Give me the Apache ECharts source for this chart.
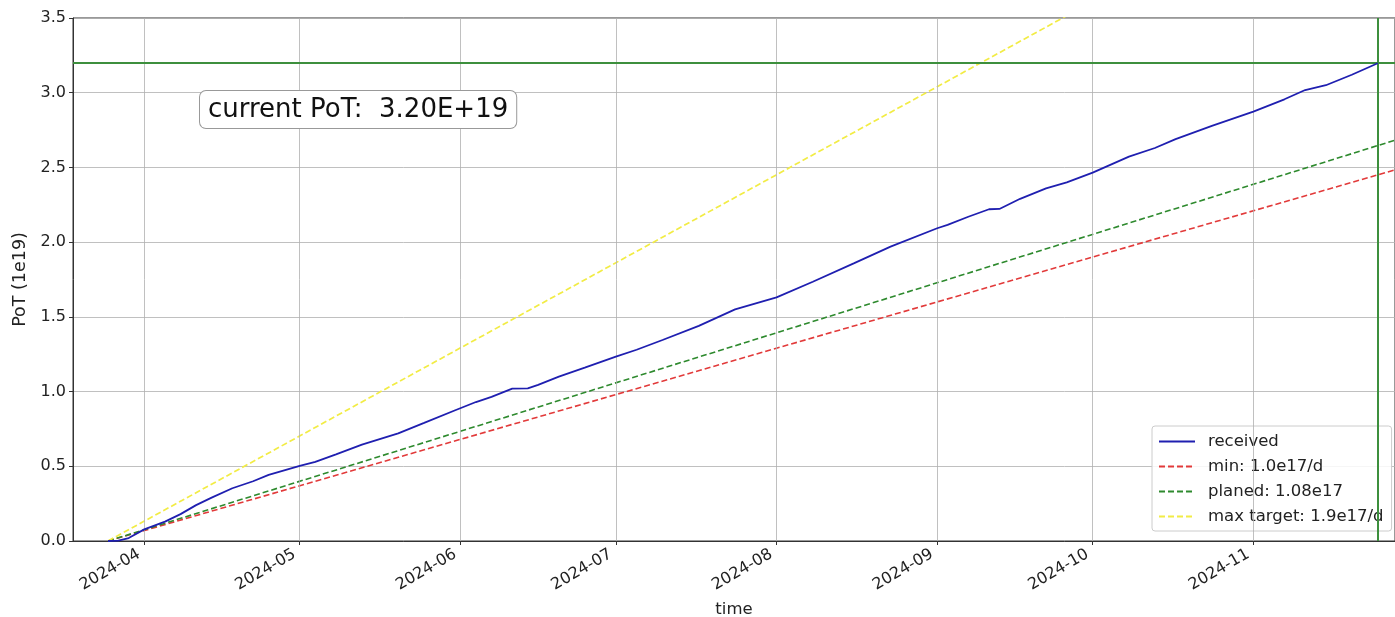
<!DOCTYPE html>
<html>
<head>
<meta charset="utf-8">
<script src="https://cdn.jsdelivr.net/npm/echarts@6/dist/echarts.min.js"></script>
<style>
  html, body { margin: 0; padding: 0; background: #fff; }
  #chart { width: 1395px; height: 617px; }
</style>
</head>
<body>
<div id="chart"></div>
<script>
// Accumulated protons on target (units of 1e19), sampled dates
const receivedDates = [
  '2024-03-25','2024-03-27','2024-03-29','2024-04-01','2024-04-05','2024-04-08','2024-04-11',
  '2024-04-14','2024-04-18','2024-04-22','2024-04-25','2024-05-01','2024-05-04','2024-05-08',
  '2024-05-13','2024-05-20','2024-05-25','2024-05-31','2024-06-04','2024-06-07','2024-06-11',
  '2024-06-14','2024-06-16','2024-06-20','2024-06-25','2024-07-01','2024-07-05','2024-07-10',
  '2024-07-17','2024-07-24','2024-08-01','2024-08-08','2024-08-16','2024-08-23','2024-09-01',
  '2024-09-03','2024-09-07','2024-09-11','2024-09-13','2024-09-17','2024-09-22','2024-09-26',
  '2024-10-01','2024-10-08','2024-10-13','2024-10-17','2024-10-24','2024-11-01','2024-11-07',
  '2024-11-11','2024-11-15','2024-11-20','2024-11-25'
];
const receivedValues = [
  0.000, 0.002, 0.020, 0.078, 0.130, 0.180, 0.240,
  0.290, 0.353, 0.400, 0.442, 0.502, 0.530, 0.580,
  0.645, 0.720, 0.790, 0.875, 0.930, 0.965, 1.020,
  1.022, 1.045, 1.100, 1.160, 1.234, 1.280, 1.345,
  1.440, 1.550, 1.630, 1.735, 1.860, 1.970, 2.093,
  2.115, 2.170, 2.220, 2.222, 2.290, 2.360, 2.400,
  2.465, 2.572, 2.630, 2.689, 2.778, 2.874, 2.956,
  3.018, 3.050, 3.120, 3.197
];

// Reference rate lines: start and end points [date, PoT (1e19)]
const lineDates = ['2024-03-25', '2024-12-01'];
const minValues = [0, 2.51];       // 1.0e17 per day
const planedValues = [0, 2.711];   // 1.08e17 per day
const maxValues = [0, 4.769];      // 1.9e17 per day

// Axis ticks
const monthTicks = ['2024-04','2024-05','2024-06','2024-07','2024-08','2024-09','2024-10','2024-11'];
const xStart = '2024-03-18T06:00:00Z';
const xEnd = '2024-11-28T08:00:00Z';

// Latest value and its date
const currentDate = receivedDates[receivedDates.length - 1];
const currentValue = receivedValues[receivedValues.length - 1];

const ts = s => Date.parse(s.length === 7 ? s + '-01T00:00:00Z' : (s.length === 10 ? s + 'T00:00:00Z' : s));
const pairs = (dates, vals) => dates.map((d, i) => [ts(d), vals[i]]);
const tickValues = monthTicks.map(ts);

const FONT = 'DejaVu Sans';
const TXT = '#222';

const chart = echarts.init(document.getElementById('chart'), null, { renderer: 'canvas' });

chart.setOption({
  animation: false,
  backgroundColor: '#fff',
  grid: {
    left: 73, top: 18, right: 0, bottom: 76,
    outerBoundsMode: 'none',
    containLabel: false,
    show: true, borderColor: '#333', borderWidth: 1, backgroundColor: 'transparent'
  },
  xAxis: {
    type: 'value',
    min: ts(xStart),
    max: ts(xEnd),
    name: 'time',
    nameLocation: 'middle',
    nameGap: 60,
    nameTextStyle: { fontFamily: FONT, fontSize: 16.5, color: TXT },
    axisLine: { show: true, lineStyle: { color: '#333', width: 1 } },
    axisTick: { show: true, length: 4, lineStyle: { color: '#333' }, customValues: tickValues },
    axisLabel: {
      customValues: tickValues,
      rotate: 30,
      margin: 9,
      padding: [0, 6, 0, 0],
      fontFamily: FONT, fontSize: 16, color: TXT,
      formatter: v => {
        const d = new Date(v);
        return d.getUTCFullYear() + '-' + String(d.getUTCMonth() + 1).padStart(2, '0');
      }
    },
    splitLine: { show: false }
  },
  yAxis: {
    type: 'value',
    min: 0, max: 3.5, interval: 0.5,
    name: 'PoT (1e19)',
    nameLocation: 'middle',
    nameGap: 40,
    nameTextStyle: { fontFamily: FONT, fontSize: 17.5, color: TXT },
    axisLine: { show: true, lineStyle: { color: '#333', width: 1 } },
    axisTick: { show: true, length: 4, lineStyle: { color: '#333' } },
    axisLabel: {
      margin: 7,
      fontFamily: FONT, fontSize: 16, color: TXT,
      formatter: v => v.toFixed(1)
    },
    splitLine: { show: true, lineStyle: { color: '#b0b0b0', width: 0.8 } }
  },
  legend: {
    orient: 'vertical',
    left: 1152, top: 426,
    itemWidth: 36, itemHeight: 14, itemGap: 8,
    padding: [7, 8, 6, 6],
    backgroundColor: 'rgba(255,255,255,0.85)',
    borderColor: '#cccccc', borderWidth: 1, borderRadius: 3,
    itemStyle: { opacity: 0 },
    textStyle: { fontFamily: FONT, fontSize: 16.5, color: TXT, padding: [0, 0, 0, 8] },
    data: ['received', 'min: 1.0e17/d', 'planed: 1.08e17', 'max target: 1.9e17/d']
  },
  graphic: [{
    type: 'text',
    left: 199, top: 90,
    z: 100,
    style: {
      text: 'current PoT:  ' + currentValue.toFixed(2) + 'E+19',
      font: '26px "DejaVu Sans"',
      fill: '#111',
      backgroundColor: '#fff',
      borderColor: '#999',
      borderWidth: 1,
      borderRadius: 6,
      padding: [6, 8, 5, 8]
    }
  }],
  series: [
    {
      // vertical month grid lines
      name: 'monthGrid',
      type: 'line',
      data: [],
      silent: true,
      z: 1,
      markLine: {
        silent: true,
        symbol: 'none',
        label: { show: false },
        lineStyle: { color: '#b0b0b0', width: 0.8, type: 'solid' },
        data: tickValues.map(v => ({ xAxis: v }))
      }
    },
    {
      name: 'received',
      type: 'line',
      data: pairs(receivedDates, receivedValues),
      showSymbol: false, symbol: 'none',
      lineStyle: { color: '#1f1fb0', width: 1.8 },
      itemStyle: { color: '#1f1fb0' },
      z: 5,
      markLine: {
        silent: true,
        symbol: 'none',
        label: { show: false },
        lineStyle: { color: '#3d8f3d', width: 2, type: 'solid' },
        data: [
          { yAxis: currentValue },
          { xAxis: ts(currentDate) }
        ]
      }
    },
    {
      name: 'min: 1.0e17/d',
      type: 'line',
      data: pairs(lineDates, minValues),
      showSymbol: false, symbol: 'none',
      lineStyle: { color: '#e23a3a', width: 1.6, type: [6, 3] },
      itemStyle: { color: '#e23a3a' },
      z: 3
    },
    {
      name: 'planed: 1.08e17',
      type: 'line',
      data: pairs(lineDates, planedValues),
      showSymbol: false, symbol: 'none',
      lineStyle: { color: '#2e8a2e', width: 1.6, type: [6, 3] },
      itemStyle: { color: '#2e8a2e' },
      z: 3
    },
    {
      name: 'max target: 1.9e17/d',
      type: 'line',
      data: pairs(lineDates, maxValues),
      showSymbol: false, symbol: 'none',
      lineStyle: { color: '#f2ec45', width: 1.7, type: [6, 3] },
      itemStyle: { color: '#f2ec45' },
      z: 3
    }
  ]
});
</script>
</body>
</html>
